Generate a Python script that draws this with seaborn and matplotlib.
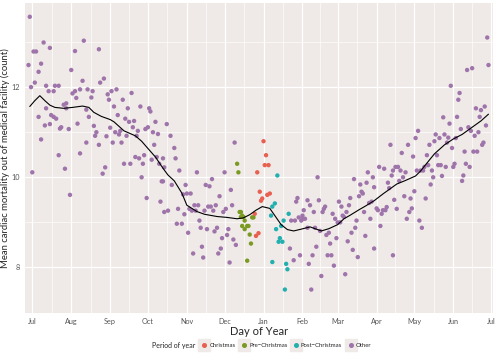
import numpy as np
import pandas as pd
import matplotlib
matplotlib.use("Agg")
import matplotlib.pyplot as plt
from matplotlib.lines import Line2D
import seaborn as sns

# ---------------- data (day offset from 1 Jul, mean count) ----------------
other_day_a = [-2, -3, -1, 0, 1, 3, 2, 5, 5, 7, 7, 9, 10, 11, 11, 13, 14, 14, 15, 17, 17, 18, 19, 21, 21,
               22, 23, 25, 26, 27, 27, 29, 30, 31, 32, 34, 34, 35, 36, 38, 38, 40, 41, 43, 43, 44, 45, 47,
               48, 49,
               50, 51, 53, 53, 54, 57, 56, 58, 59, 60, 61, 62, 63, 64, 65, 66, 67, 68, 69, 70, 71, 72, 73,
               74, 75, 76, 77, 78, 79, 80, 81, 82, 83, 84, 85, 86, 87, 88, 89, 90, 91, 92, 93, 94, 95, 96,
               97, 98, 99, 100, 101, 102, 103, 104, 104, 105,
               105, 107, 108, 110, 111, 113, 114, 116, 115, 117, 119, 120, 121, 122, 123, 124, 125, 126,
               127, 128, 129, 130, 131, 132, 133, 134, 135, 136, 137, 138, 139, 140, 141, 142, 143, 144,
               145, 146, 147, 148, 149, 150, 151, 152, 153, 154, 155, 156, 157, 158, 159, 160, 161, 162]
other_val_a = [13.56, 12.49, 12.00, 10.11, 12.79, 12.79, 12.10, 11.34, 12.34, 12.52, 10.84, 12.99, 11.15,
               12.03, 11.53, 11.91, 11.18, 12.87, 11.38, 11.91, 11.34, 12.03, 11.30, 10.49, 12.03, 11.08,
               11.11, 11.61, 10.19, 11.53, 11.64, 11.07, 9.61, 12.38, 11.86, 11.91, 12.80, 11.76, 11.19,
               10.53, 11.95, 12.14, 13.03, 10.77, 11.50, 11.95, 11.34, 11.77, 11.91, 11.14,
               10.92, 11.00, 10.72, 12.84, 12.10, 12.19, 10.08, 10.22, 10.91, 11.84, 11.72, 11.10, 11.91,
               10.77, 11.57, 11.00, 11.95, 11.38, 10.95, 11.03, 10.77, 11.72, 10.30, 11.30, 10.92, 11.53,
               11.23, 10.30, 11.87, 11.11, 11.25, 10.45, 10.92, 11.03, 10.42, 11.57, 10.00, 10.30, 10.49,
               11.07, 9.54, 11.11, 11.53, 11.46, 10.39, 11.00, 10.72, 11.23, 10.45, 10.96, 10.30, 9.46,
               9.91, 10.42, 9.91, 9.23,
               10.22, 11.18, 9.26, 10.92, 9.83, 10.65, 10.42, 9.30, 8.97, 10.15, 8.97, 9.62, 9.18, 9.83,
               9.64, 8.77, 9.30, 9.64, 9.26, 8.31, 9.38, 9.26, 10.11, 9.38, 9.04, 8.88, 8.46, 8.22, 9.26,
               9.83, 8.85, 9.35, 9.80, 9.35, 9.96, 9.26, 8.80, 9.38, 8.88, 8.31, 9.58, 8.42, 8.65, 9.23,
               10.11, 9.30, 8.72, 8.85, 8.11, 9.72, 9.38, 8.62, 10.77, 8.50]

pre_day = [163, 164, 165, 166, 166, 167, 167, 168, 169, 169, 171, 171, 172, 173, 174, 175, 176]
pre_val = [10.30, 10.11, 9.23, 9.12, 9.23, 8.92, 9.15, 9.12, 8.85, 9.04, 8.92, 8.15, 8.92, 8.73, 8.53,
           9.11, 9.11]

xmas_day = [177, 178, 179, 180, 181, 182, 183, 184, 185, 186, 187, 188, 189]
xmas_val = [9.19, 8.70, 10.11, 8.76, 9.68, 9.48, 9.53, 10.80, 10.27, 10.49, 9.61, 10.27, 9.64]

post_day = [190, 191, 193, 194, 195, 196, 197, 199, 198, 200, 191, 201, 202, 203, 204]
post_val = [9.15, 9.35, 9.42, 8.85, 10.04, 8.57, 8.65, 8.57, 8.92, 9.04, 8.12, 7.51, 8.08, 7.96, 9.19]

other_day_b = [205, 206, 208, 209, 210, 211, 212, 213, 214, 215, 215, 216,
               217, 219, 219, 220, 221, 222, 223, 224, 225, 226, 227, 228, 229, 230, 231, 232, 233, 234,
               235, 236, 237, 238, 239, 240, 241, 242, 243, 244, 245, 246, 247, 248, 249, 250, 251, 252,
               253, 254, 255, 256, 257, 258, 259, 260, 261, 262, 263, 264, 265, 266, 267, 268, 269, 270,
               271, 272, 272,
               274, 275, 276, 277, 278, 279, 280, 281, 282, 283, 284, 285, 286, 287, 287, 288, 289, 290,
               291, 292, 293, 294, 295, 296, 297, 298, 299, 300, 301, 302, 303, 304, 305, 306, 307, 308,
               309, 310, 311, 312, 313, 314, 315, 316, 317, 318, 319, 320, 321, 322, 323, 324, 325, 326,
               327, 328,
               329, 330, 331, 332, 333, 334, 335, 336, 337, 338, 339, 340, 341, 342, 343, 344, 345, 346,
               347, 348, 349, 350, 351, 352, 353, 354, 355, 356, 357, 358, 359, 360, 361, 362, 363]
other_val_b = [8.42, 9.04, 8.16, 9.04, 9.46, 9.54, 9.11, 8.27, 9.04, 9.08, 9.15, 9.27,
               9.08, 9.49, 8.88, 8.08, 9.38, 7.51, 8.27, 9.23, 8.88, 8.46, 10.00, 9.49, 8.81, 7.81, 9.23,
               9.30, 9.35, 8.72, 8.27, 8.77, 8.53, 8.27, 9.19, 8.04, 9.08, 8.65, 9.00, 9.46, 9.00, 9.35,
               9.15, 9.12, 7.85, 9.23, 8.58, 9.38, 9.54, 8.77, 8.39, 9.96, 8.88, 9.04, 8.23, 9.58, 9.84,
               9.68, 9.64, 9.23, 8.70, 9.88, 10.11, 9.43, 9.08, 9.46, 10.00, 8.42, 9.78,
               9.31, 9.27, 10.23, 8.92, 9.19, 9.27, 10.19, 9.27, 9.34, 9.88, 9.76, 10.72, 10.04, 10.15,
               8.27, 9.50, 10.23, 9.30, 10.23, 9.92, 10.15, 10.54, 10.00, 9.58, 10.11, 9.08, 10.72, 9.23,
               9.53, 9.31, 10.46, 9.69, 10.87, 10.15, 11.03, 9.04, 10.15, 8.88, 10.15, 10.23, 9.53, 10.49,
               10.27, 10.72, 9.84, 10.15, 10.00, 10.80, 10.95, 10.49, 10.27, 10.87, 10.27, 10.03, 11.33,
               10.95,
               10.23, 10.77, 10.88, 11.19, 12.03, 10.65, 10.23, 10.30, 10.87, 11.34, 11.72, 11.87, 11.07,
               9.92, 10.04, 10.57, 10.30, 12.38, 11.11, 10.23, 11.03, 12.42, 10.57, 10.92, 11.53, 10.57,
               11.00, 11.34, 11.49, 10.72, 10.77, 11.57, 11.15, 13.10, 12.49]

# smoothed trend line
smooth_day = [-2, 2, 6, 10, 14, 18, 25, 32, 40, 45, 49, 55, 62, 65, 73, 82, 87, 92, 98, 104, 108, 113,
              119, 123, 131, 137, 147, 155, 163, 168, 173, 178, 183, 189, 193, 198, 203, 208, 214, 221,
              226, 230, 236, 243, 248, 253, 260, 265, 272, 279, 284, 290, 297, 305, 309, 313, 320, 328,
              335, 342, 348, 352, 357, 363]
smooth_val = [11.57, 11.70, 11.81, 11.70, 11.60, 11.55, 11.53, 11.55, 11.58, 11.55, 11.44, 11.35,
              11.28, 11.23, 11.03, 10.92, 10.80, 10.64, 10.45, 10.20, 10.05, 9.92, 9.65, 9.38, 9.24,
              9.18, 9.13, 9.11, 9.08, 9.10, 9.17, 9.27, 9.35, 9.31, 9.15, 8.95, 8.84, 8.81, 8.85, 8.90,
              8.85, 8.81, 8.86, 8.95, 9.08, 9.16, 9.28, 9.36, 9.48, 9.63, 9.73, 9.85, 9.93, 10.03, 10.14,
              10.28, 10.52, 10.72, 10.85, 10.95, 11.07, 11.15, 11.25, 11.40]

periods = ["Christmas", "Pre\u2212Christmas", "Post\u2212Christmas", "Other"]
colors = ["#E8604F", "#7A9A22", "#22B0AE", "#9E74AA"]
month_days = [0, 31, 62, 92, 123, 153, 184, 215, 243, 274, 304, 335, 365]
month_labels = ["Jul", "Aug", "Sep", "Oct", "Nov", "Dec", "Jan", "Feb", "Mar", "Apr", "May", "Jun", "Jul"]
y_ticks = [8, 10, 12]

# ---------------- build tables ----------------
frames = [
    pd.DataFrame({"day": other_day_a, "val": other_val_a, "period": "Other"}),
    pd.DataFrame({"day": pre_day, "val": pre_val, "period": periods[1]}),
    pd.DataFrame({"day": xmas_day, "val": xmas_val, "period": periods[0]}),
    pd.DataFrame({"day": post_day, "val": post_val, "period": periods[2]}),
    pd.DataFrame({"day": other_day_b, "val": other_val_b, "period": "Other"}),
]
df = pd.concat(frames, ignore_index=True)
smooth = pd.DataFrame({"day": smooth_day, "val": smooth_val})

# ---------------- plot ----------------
sns.set_theme(style="white")
plt.rcParams["font.family"] = ["Lato", "DejaVu Sans"]

fig = plt.figure(figsize=(5.0, 3.63), dpi=100)
ax = fig.add_axes([0.05, 0.139, 0.936, 0.852])
ax.set_facecolor("#EFEAE7")
for s in ax.spines.values():
    s.set_visible(False)

sns.scatterplot(data=df, x="day", y="val", hue="period", hue_order=periods,
                palette=dict(zip(periods, colors)), s=10, linewidth=0, ax=ax,
                legend=False, zorder=3)
sns.lineplot(data=smooth, x="day", y="val", color="black", lw=0.8, ax=ax, zorder=4)

ax.set_xlim(-5.8, 366.6)
ax.set_ylim(7.2, 13.86)
ax.set_xticks(month_days)
ax.set_xticklabels(month_labels)
ax.set_yticks(y_ticks)
ax.set_xticks([(a + b) / 2 for a, b in zip(month_days[:-1], month_days[1:])], minor=True)
ax.set_yticks([7, 9, 11, 13], minor=True)
ax.grid(which="major", color="white", lw=0.9)
ax.grid(which="minor", color="white", lw=0.45)
ax.set_axisbelow(True)
ax.tick_params(which="major", length=2.5, width=0.5, color="#555555", labelsize=5.2,
               labelcolor="#555555", pad=1.5)
ax.tick_params(which="minor", length=0)
ax.set_xlabel("Day of Year", fontsize=8, labelpad=0.5)
ax.set_ylabel("Mean cardiac mortality out of medical facility (count)", fontsize=6.8)
ax.yaxis.set_label_coords(-0.031, 0.5)

handles = [(Line2D([], [], ls="", marker="s", ms=8, color="#EFEAE7"),
            Line2D([], [], ls="", marker="o", ms=2.6, color=c)) for c in colors]
fig.text(0.305, 0.048, "Period of year", fontsize=5.0, va="center", ha="left")
fig.legend(handles, periods, loc="center left", bbox_to_anchor=(0.403, 0.048), ncol=4,
           frameon=False, fontsize=4.3, handlelength=1.0, handletextpad=0.35,
           columnspacing=0.9, borderpad=0, borderaxespad=0)

fig.savefig("out.png", dpi=100)
